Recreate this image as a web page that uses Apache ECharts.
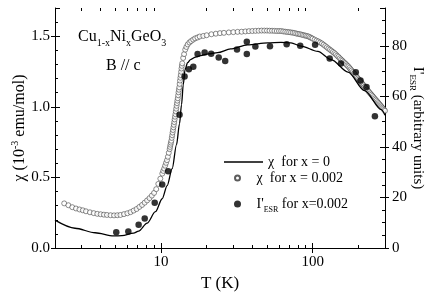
<!DOCTYPE html>
<html><head><meta charset="utf-8">
<script src="https://cdn.jsdelivr.net/npm/echarts@6/dist/echarts.min.js"></script>
<style>html,body{margin:0;padding:0;background:#fff}#c{width:436px;height:292px}</style>
</head><body><div id="c"></div>
<script>
// ---- data ----
const xLabelValues = [10, 100];
const xMinorValues = [3, 4, 5, 6, 7, 8, 9, 20, 30, 40, 50, 60, 70, 80, 90, 200];
const chiTicks = [0, 0.5, 1.0, 1.5];
const esrTicks = [0, 20, 40, 60, 80];

// chi for x = 0 (solid line)
const solidT = [2.0, 2.71, 3.68, 4.87, 5.53, 6.60, 7.12, 8.10, 9.19, 10.18, 10.98, 11.85, 12.66, 13.25, 13.66, 14.02, 14.41, 14.97, 15.67, 16.91, 18.25, 20.6, 23.6, 28.8, 37.2, 50.5, 61.8, 72.0, 83.9, 108.2, 132.5, 171, 220, 284, 300];
const solidChi = [0.197, 0.140, 0.108, 0.086, 0.087, 0.105, 0.119, 0.176, 0.257, 0.349, 0.442, 0.562, 0.732, 0.881, 1.016, 1.157, 1.264, 1.313, 1.335, 1.352, 1.363, 1.375, 1.384, 1.410, 1.439, 1.453, 1.457, 1.453, 1.430, 1.393, 1.335, 1.246, 1.115, 0.980, 0.940];

// chi for x = 0.002 (open circles)
const circleT = [2.3, 2.45, 2.6, 2.75, 2.9, 3.05, 3.2, 3.4, 3.6, 3.8, 4.0, 4.2, 4.4, 4.65, 4.9, 5.15, 5.4, 5.7, 6.0, 6.3, 6.6, 6.9, 7.2, 7.5, 7.8, 8.1, 8.4, 8.7, 9.0, 9.3, 9.6, 9.9,
  10.2, 10.35, 10.5, 10.65, 10.8, 10.95, 11.1, 11.25, 11.4, 11.475, 11.55, 11.625, 11.7, 11.775, 11.85, 11.925, 12.0, 12.075, 12.15, 12.225, 12.3, 12.375, 12.45, 12.525, 12.6, 12.675, 12.75, 12.825, 12.9, 12.975, 13.05, 13.125, 13.2, 13.275, 13.35, 13.425, 13.5, 13.575, 13.65, 13.725, 13.8, 14.0, 14.2, 14.45, 14.7, 15.0, 15.4, 15.8, 16.3, 16.8, 17.4, 18.0, 19.0, 20.0, 21.5, 23, 24.5, 26, 28, 30, 32, 34, 36, 38,
  40, 42, 44, 46, 48, 50, 52, 54, 56, 58, 60, 62, 64, 66, 68, 70, 72, 74, 76, 78, 80, 82, 84, 86, 88, 90, 92, 94, 96, 98, 100,
  103, 106, 109, 112, 115, 118, 121, 124, 127, 130, 133, 136, 139, 142, 145, 148, 151, 154, 157, 160, 163, 166, 169, 172, 175, 178, 181, 184, 187, 190, 193, 196, 199, 202, 205, 208, 211, 214, 217,
  220, 224, 228, 232, 236, 240, 244, 248, 252, 256, 260, 264, 268, 272, 276, 280, 284, 288, 292, 296, 300];
const circleChi = [0.316, 0.303, 0.289, 0.280, 0.273, 0.267, 0.260, 0.253, 0.247, 0.242, 0.239, 0.236, 0.234, 0.232, 0.231, 0.232, 0.234, 0.240, 0.246, 0.254, 0.265, 0.276, 0.291, 0.305, 0.321, 0.337, 0.353, 0.371, 0.390, 0.417, 0.454, 0.491,
  0.527, 0.546, 0.563, 0.583, 0.603, 0.622, 0.646, 0.674, 0.700, 0.716, 0.732, 0.746, 0.760, 0.780, 0.799, 0.818, 0.836, 0.855, 0.873, 0.892, 0.911, 0.930, 0.948, 0.968, 0.987, 1.007, 1.026, 1.044, 1.061, 1.082, 1.103, 1.121, 1.138, 1.162, 1.186, 1.206, 1.225, 1.248, 1.271, 1.290, 1.308, 1.346, 1.373, 1.405, 1.424, 1.442, 1.456, 1.466, 1.476, 1.485, 1.491, 1.498, 1.502, 1.507, 1.514, 1.518, 1.522, 1.524, 1.527, 1.529, 1.531, 1.532, 1.534, 1.536,
  1.537, 1.538, 1.539, 1.540, 1.540, 1.540, 1.539, 1.539, 1.538, 1.537, 1.537, 1.537, 1.534, 1.532, 1.530, 1.529, 1.527, 1.525, 1.523, 1.519, 1.517, 1.515, 1.512, 1.509, 1.506, 1.504, 1.501, 1.498, 1.493, 1.488, 1.483,
  1.476, 1.469, 1.463, 1.456, 1.449, 1.440, 1.431, 1.422, 1.413, 1.405, 1.397, 1.389, 1.381, 1.372, 1.362, 1.354, 1.344, 1.335, 1.327, 1.318, 1.310, 1.302, 1.293, 1.286, 1.276, 1.266, 1.257, 1.247, 1.237, 1.229, 1.219, 1.210, 1.201, 1.193, 1.184, 1.176, 1.167, 1.160, 1.151,
  1.142, 1.133, 1.123, 1.114, 1.104, 1.095, 1.086, 1.077, 1.068, 1.059, 1.051, 1.043, 1.034, 1.026, 1.018, 1.010, 1.002, 0.994, 0.987, 0.979, 0.972];

// I'_ESR for x = 0.002 (filled dots, right axis)
const esrT = [5.07, 6.09, 7.12, 7.81, 9.09, 10.18, 11.15, 13.25, 14.3, 15.27, 16.33, 17.43, 19.4, 21.42, 24.02, 26.51, 31.7, 36.8, 36.8, 41.9, 52.3, 67.4, 82.8, 103.8, 129.5, 153.7, 192.5, 206.8, 226.6, 257.3];
const esrI = [6.2, 6.5, 9.2, 11.7, 17.9, 25.1, 30.4, 52.7, 67.9, 70.8, 71.7, 76.8, 77.4, 76.9, 75.4, 74.0, 78.6, 81.6, 76.8, 79.8, 79.9, 80.7, 80.1, 80.5, 75.0, 73.0, 69.6, 66.3, 63.7, 52.2];

const names = ['χ  for x = 0', 'χ  for x = 0.002', "I'ESR for x=0.002"];

// ---- chart ----
const FONT = 'Liberation Serif';
const zip = (a, b) => a.map((v, i) => [v, b[i]]);
const chart = echarts.init(document.getElementById('c'), null, {renderer: 'canvas'});
const black = '#000';
const legendBase = {
  orient: 'vertical', itemGap: 0, selectedMode: false,
  textStyle: {fontFamily: FONT, fontSize: 14, color: black, lineHeight: 20,
    rich: {sub: {fontSize: 8, fontFamily: FONT, color: black, verticalAlign: 'bottom', lineHeight: 8}}},
  formatter: n => n === names[2] ? "I'{sub|ESR} for x=0.002" : n
};
const logAx = {type: 'log', logBase: 10, min: 2, max: 300, gridIndex: 0};
chart.setOption({
  animation: false,
  backgroundColor: '#fff',
  grid: {left: 55, right: 51, top: 8, bottom: 44, containLabel: false, outerBoundsMode: 'none'},
  title: [
    {text: 'Cu{sub|1-x}Ni{sub|x}GeO{sub|3}', left: 73, top: 21,
      textStyle: {fontFamily: FONT, fontSize: 16, fontWeight: 'normal', color: black, lineHeight: 22,
        rich: {sub: {fontSize: 10, fontFamily: FONT, color: black, verticalAlign: 'bottom', lineHeight: 10}}}},
    {text: 'B // c', left: 101, top: 53,
      textStyle: {fontFamily: FONT, fontSize: 16, fontWeight: 'normal', color: black}}
  ],
  legend: [
    Object.assign({}, legendBase, {data: [{name: names[0], icon: 'rect'}], left: 219, top: 147, itemWidth: 39, itemHeight: 1.3}),
    Object.assign({}, legendBase, {data: [names[1]], left: 229, top: 163, itemWidth: 28, itemHeight: 5}),
    Object.assign({}, legendBase, {data: [names[2]], left: 229, top: 189, itemWidth: 28, itemHeight: 7})
  ],
  xAxis: [
    Object.assign({}, logAx, {position: 'bottom',
      name: 'T (K)', nameLocation: 'middle', nameGap: 26,
      nameTextStyle: {fontFamily: FONT, fontSize: 17, color: black},
      axisLine: {show: true, lineStyle: {color: black, width: 1}},
      axisTick: {show: true, inside: true, length: 5, customValues: xLabelValues, lineStyle: {color: black}},
      axisLabel: {show: true, customValues: xLabelValues, margin: 7, fontFamily: FONT, fontSize: 15, color: black, formatter: v => String(Math.round(v))},
      splitLine: {show: false}, minorTick: {show: false}}),
    Object.assign({}, logAx, {position: 'bottom',
      axisLine: {show: false},
      axisTick: {show: true, inside: true, length: 3, customValues: xMinorValues, lineStyle: {color: black}},
      axisLabel: {show: false}, splitLine: {show: false}}),
    Object.assign({}, logAx, {position: 'bottom',
      axisLine: {show: false},
      axisTick: {show: true, inside: false, length: 4, customValues: xLabelValues, lineStyle: {color: black}},
      axisLabel: {show: false}, splitLine: {show: false}}),
    Object.assign({}, logAx, {position: 'top',
      axisLine: {show: true, lineStyle: {color: black, width: 1}},
      axisTick: {show: true, inside: true, length: 5, customValues: xLabelValues, lineStyle: {color: black}},
      axisLabel: {show: false}, splitLine: {show: false}}),
    Object.assign({}, logAx, {position: 'top',
      axisLine: {show: false},
      axisTick: {show: true, inside: true, length: 3, customValues: xMinorValues, lineStyle: {color: black}},
      axisLabel: {show: false}, splitLine: {show: false}})
  ],
  yAxis: [
    {type: 'value', position: 'left', min: 0, max: 1.7, interval: 0.5,
      name: 'χ (10{sup|-3} emu/mol)', nameLocation: 'middle', nameGap: 25, nameRotate: 90, nameMoveOverlap: false,
      nameTextStyle: {fontFamily: FONT, fontSize: 16, color: black, lineHeight: 20,
        rich: {sup: {fontSize: 10, fontFamily: FONT, color: black, verticalAlign: 'top', lineHeight: 10}}},
      axisLine: {show: true, lineStyle: {color: black, width: 1}},
      axisTick: {show: true, inside: true, length: 5, lineStyle: {color: black}},
      minorTick: {show: true, splitNumber: 5, length: 3, lineStyle: {color: black}},
      axisLabel: {show: true, margin: 5, fontFamily: FONT, fontSize: 15, color: black,
        customValues: chiTicks, formatter: v => v.toFixed(1)},
      splitLine: {show: false}},
    {type: 'value', position: 'right', min: 0, max: 95, interval: 20,
      name: "I'{sub|ESR} (arbitrary units)", nameLocation: 'middle', nameGap: 23, nameRotate: -90, nameMoveOverlap: false,
      nameTextStyle: {fontFamily: FONT, fontSize: 15, color: black, lineHeight: 20,
        rich: {sub: {fontSize: 9, fontFamily: FONT, color: black, verticalAlign: 'bottom', lineHeight: 9}}},
      axisLine: {show: true, lineStyle: {color: black, width: 1}},
      axisTick: {show: true, inside: true, length: 5, lineStyle: {color: black}},
      minorTick: {show: true, splitNumber: 4, length: 3, lineStyle: {color: black}},
      axisLabel: {show: true, margin: 7, fontFamily: FONT, fontSize: 15, color: black,
        customValues: esrTicks, formatter: v => String(v)},
      splitLine: {show: false}},
    {type: 'value', position: 'left', min: 0, max: 1.7, interval: 0.5,
      axisLine: {show: false}, axisTick: {show: true, inside: false, length: 4, customValues: chiTicks, lineStyle: {color: black}},
      axisLabel: {show: false}, splitLine: {show: false}},
    {type: 'value', position: 'right', min: 0, max: 95, interval: 20,
      axisLine: {show: false}, axisTick: {show: true, inside: false, length: 4, customValues: esrTicks, lineStyle: {color: black}},
      axisLabel: {show: false}, splitLine: {show: false}}
  ],
  series: [
    {name: names[1], type: 'scatter', xAxisIndex: 0, yAxisIndex: 0, data: zip(circleT, circleChi),
      symbol: 'circle', symbolSize: 5,
      itemStyle: {color: '#fff', borderColor: '#333', borderWidth: 0.7}, z: 2},
    {name: names[0], type: 'line', xAxisIndex: 0, yAxisIndex: 0, data: zip(solidT, solidChi),
      symbol: 'none', showSymbol: false, smooth: 0.3, smoothMonotone: 'x',
      lineStyle: {color: black, width: 1.3}, itemStyle: {color: black}, z: 3},
    {name: names[2], type: 'scatter', xAxisIndex: 0, yAxisIndex: 1, data: zip(esrT, esrI),
      symbol: 'circle', symbolSize: 6.5, itemStyle: {color: black}, z: 4}
  ]
});
</script></body></html>
